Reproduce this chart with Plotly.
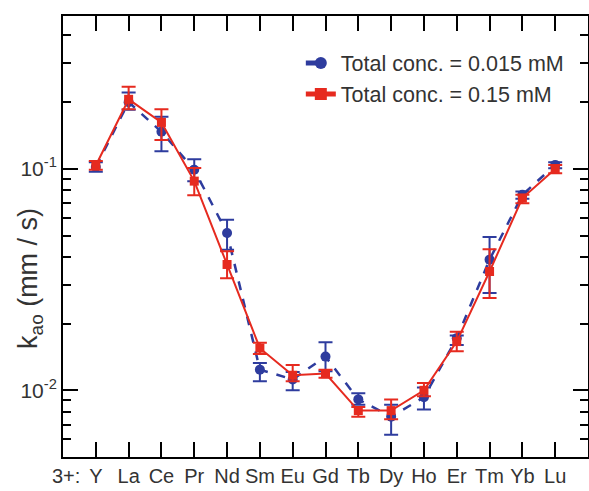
import plotly.graph_objects as go

elements = ["Y", "La", "Ce", "Pr", "Nd", "Sm", "Eu", "Gd", "Tb", "Dy", "Ho", "Er", "Tm", "Yb", "Lu"]

blue_name = "Total conc. = 0.015 mM"
blue_vals = [0.102, 0.200, 0.147, 0.099, 0.0513, 0.0124, 0.0112, 0.0142, 0.0091, 0.0076, 0.0093, 0.0172, 0.0389, 0.0763, 0.1042]
blue_err_up = [0.005, 0.021, 0.025, 0.0115, 0.0076, 0.0009, 0.0009, 0.0023, 0.0006, 0.0010, 0.0010, 0.0005, 0.0103, 0.0027, 0.0028]
blue_err_dn = [0.005, 0.015, 0.027, 0.011, 0.0082, 0.0014, 0.0012, 0.0020, 0.0005, 0.0013, 0.0011, 0.0012, 0.0114, 0.0030, 0.0037]

red_name = "Total conc. = 0.15 mM"
red_vals = [0.1035, 0.206, 0.162, 0.088, 0.037, 0.0155, 0.0117, 0.0119, 0.0081, 0.0081, 0.0100, 0.0166, 0.0344, 0.0738, 0.0998]
red_err_up = [0.005, 0.029, 0.024, 0.013, 0.0055, 0.0009, 0.0013, 0.0005, 0.0003, 0.0010, 0.0008, 0.0018, 0.0090, 0.0025, 0.0044]
red_err_dn = [0.0045, 0.020, 0.027, 0.012, 0.0049, 0.0009, 0.0007, 0.0005, 0.0005, 0.0007, 0.0006, 0.0016, 0.0083, 0.0038, 0.0042]

y_major = [0.01, 0.1]
y_major_text = ["10<sup>-2</sup>", "10<sup>-1</sup>"]
y_minor = [0.006, 0.007, 0.008, 0.009, 0.02, 0.03, 0.04, 0.05, 0.06, 0.07, 0.08, 0.09, 0.2, 0.3, 0.4]

y_title = "k<sub>ao</sub> (mm / s)"
x_prefix = "3+:"

BLUE = "#2E3C9E"
RED = "#E62A1F"
FONT = "Liberation Sans, Arial, sans-serif"
TXT = "#333333"

fig = go.Figure()
fig.add_trace(go.Scatter(
    x=elements, y=blue_vals, name=blue_name, mode="lines+markers",
    line=dict(color=BLUE, width=2.5, dash="dash"),
    marker=dict(symbol="circle", size=10, color=BLUE),
    error_y=dict(type="data", symmetric=False, array=blue_err_up, arrayminus=blue_err_dn,
                 color=BLUE, thickness=2, width=7),
))
fig.add_trace(go.Scatter(
    x=elements, y=red_vals, name=red_name, mode="lines+markers",
    line=dict(color=RED, width=2),
    marker=dict(symbol="square", size=9, color=RED),
    error_y=dict(type="data", symmetric=False, array=red_err_up, arrayminus=red_err_dn,
                 color=RED, thickness=2, width=7),
))

fig.update_layout(
    width=589, height=491,
    margin=dict(l=63, r=1, t=16, b=34),
    paper_bgcolor="white", plot_bgcolor="white",
    font=dict(family=FONT, color=TXT),
    showlegend=True,
    legend=dict(x=0.453, y=0.94, xanchor="left", yanchor="top",
                bgcolor="rgba(0,0,0,0)", font=dict(size=21.5, family=FONT, color=TXT),
                tracegroupgap=0, itemsizing="constant"),
    annotations=[
        dict(text=x_prefix, xref="paper", yref="paper", x=0.006, y=-0.043,
             xanchor="center", yanchor="middle", showarrow=False,
             font=dict(size=20, family=FONT, color=TXT)),
        dict(text=y_title, xref="paper", yref="paper", x=-0.063, y=0.406,
             xanchor="center", yanchor="middle", textangle=-90, showarrow=False,
             font=dict(size=27, family=FONT, color=TXT)),
    ],
)

fig.update_xaxes(
    type="category", categoryorder="array", categoryarray=elements,
    range=[-1, 15], automargin=False,
    showline=True, linecolor="black", linewidth=2, mirror="ticks",
    ticks="inside", ticklen=15, tickwidth=2, tickcolor="black",
    tickfont=dict(size=20, family=FONT, color=TXT),
    showgrid=False, zeroline=False,
)
fig.update_yaxes(
    type="log", range=[-2.301, -0.31], automargin=False,
    showline=True, linecolor="black", linewidth=2, mirror="ticks",
    tickmode="array", tickvals=y_major, ticktext=y_major_text,
    ticks="inside", ticklen=15, tickwidth=2, tickcolor="black",
    tickfont=dict(size=21, family=FONT, color=TXT),
    minor=dict(tickmode="array", tickvals=y_minor, ticks="inside", ticklen=8, tickwidth=2, tickcolor="black", showgrid=False),
    showgrid=False, zeroline=False,
)

fig.write_html("out.html", config={"displayModeBar": False},
               post_script="document.body.style.margin='0';")
